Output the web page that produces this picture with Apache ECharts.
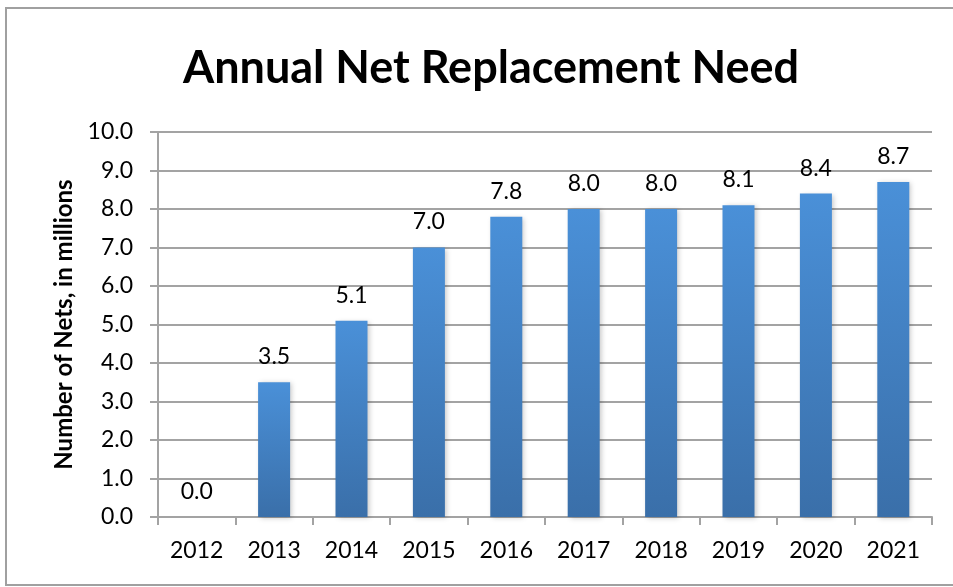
<!DOCTYPE html>
<html>
<head>
<meta charset="utf-8">
<script src="https://cdn.jsdelivr.net/npm/echarts@6/dist/echarts.min.js"></script>
<style>
  html, body { margin: 0; padding: 0; background: #fff; }
  #chart { width: 953px; height: 587px; }
</style>
</head>
<body>
<div id="chart"></div>
<script>
// Years on the category axis
const years = ['2012', '2013', '2014', '2015', '2016', '2017', '2018', '2019', '2020', '2021'];
// Nets needed each year, in millions
const netsMillions = [0.0, 3.5, 5.1, 7.0, 7.8, 8.0, 8.0, 8.1, 8.4, 8.7];

const chart = echarts.init(document.getElementById('chart'));
const baseFont = 'Lato, "Open Sans", sans-serif';
const gridGray = '#a3a3a3';

chart.setOption({
  backgroundColor: '#ffffff',
  animation: false,
  title: {
    text: 'Annual Net Replacement Need',
    left: 486,
    top: 41,
    textAlign: 'center',
    textStyle: { fontFamily: baseFont, fontWeight: 'bold', fontSize: 45, color: '#000' }
  },
  graphic: [{
    type: 'rect',
    shape: { x: 6, y: 8, width: 960, height: 577 },
    style: { fill: 'none', stroke: '#a0a0a0', lineWidth: 2 },
    silent: true
  }],
  grid: { left: 158, right: 21, top: 132, bottom: 70, containLabel: false },
  xAxis: {
    type: 'category',
    data: years,
    axisLine: { lineStyle: { color: gridGray, width: 2 } },
    axisTick: { show: true, length: 8, alignWithLabel: false, lineStyle: { color: gridGray, width: 2 } },
    axisLabel: { margin: 22, fontFamily: baseFont, fontSize: 23, color: '#000' }
  },
  yAxis: {
    type: 'value',
    min: 0,
    max: 10,
    interval: 1,
    name: 'Number of Nets, in millions',
    nameLocation: 'middle',
    nameGap: 80,
    nameRotate: 90,
    nameTextStyle: { fontFamily: baseFont, fontWeight: 'bold', fontSize: 24, color: '#000' },
    axisLine: { show: true, lineStyle: { color: gridGray, width: 2 } },
    axisTick: { show: true, inside: false, length: 8, lineStyle: { color: gridGray, width: 2 } },
    splitLine: { show: true, lineStyle: { color: gridGray, width: 2 } },
    axisLabel: {
      margin: 25,
      fontFamily: baseFont,
      fontSize: 23,
      color: '#000',
      formatter: v => v.toFixed(1)
    }
  },
  series: [{
    type: 'bar',
    data: netsMillions,
    barWidth: 32,
    itemStyle: {
      color: new echarts.graphic.LinearGradient(0, 0, 0, 1, [
        { offset: 0, color: '#4a90d8' },
        { offset: 1, color: '#3a6fa9' }
      ]),
      shadowColor: 'rgba(0,0,0,0.22)',
      shadowBlur: 5,
      shadowOffsetX: 2,
      shadowOffsetY: 1
    },
    label: {
      show: true,
      position: 'top',
      distance: 14,
      fontFamily: baseFont,
      fontSize: 23,
      color: '#000',
      formatter: p => p.value.toFixed(1)
    }
  }]
});
</script>
</body>
</html>
